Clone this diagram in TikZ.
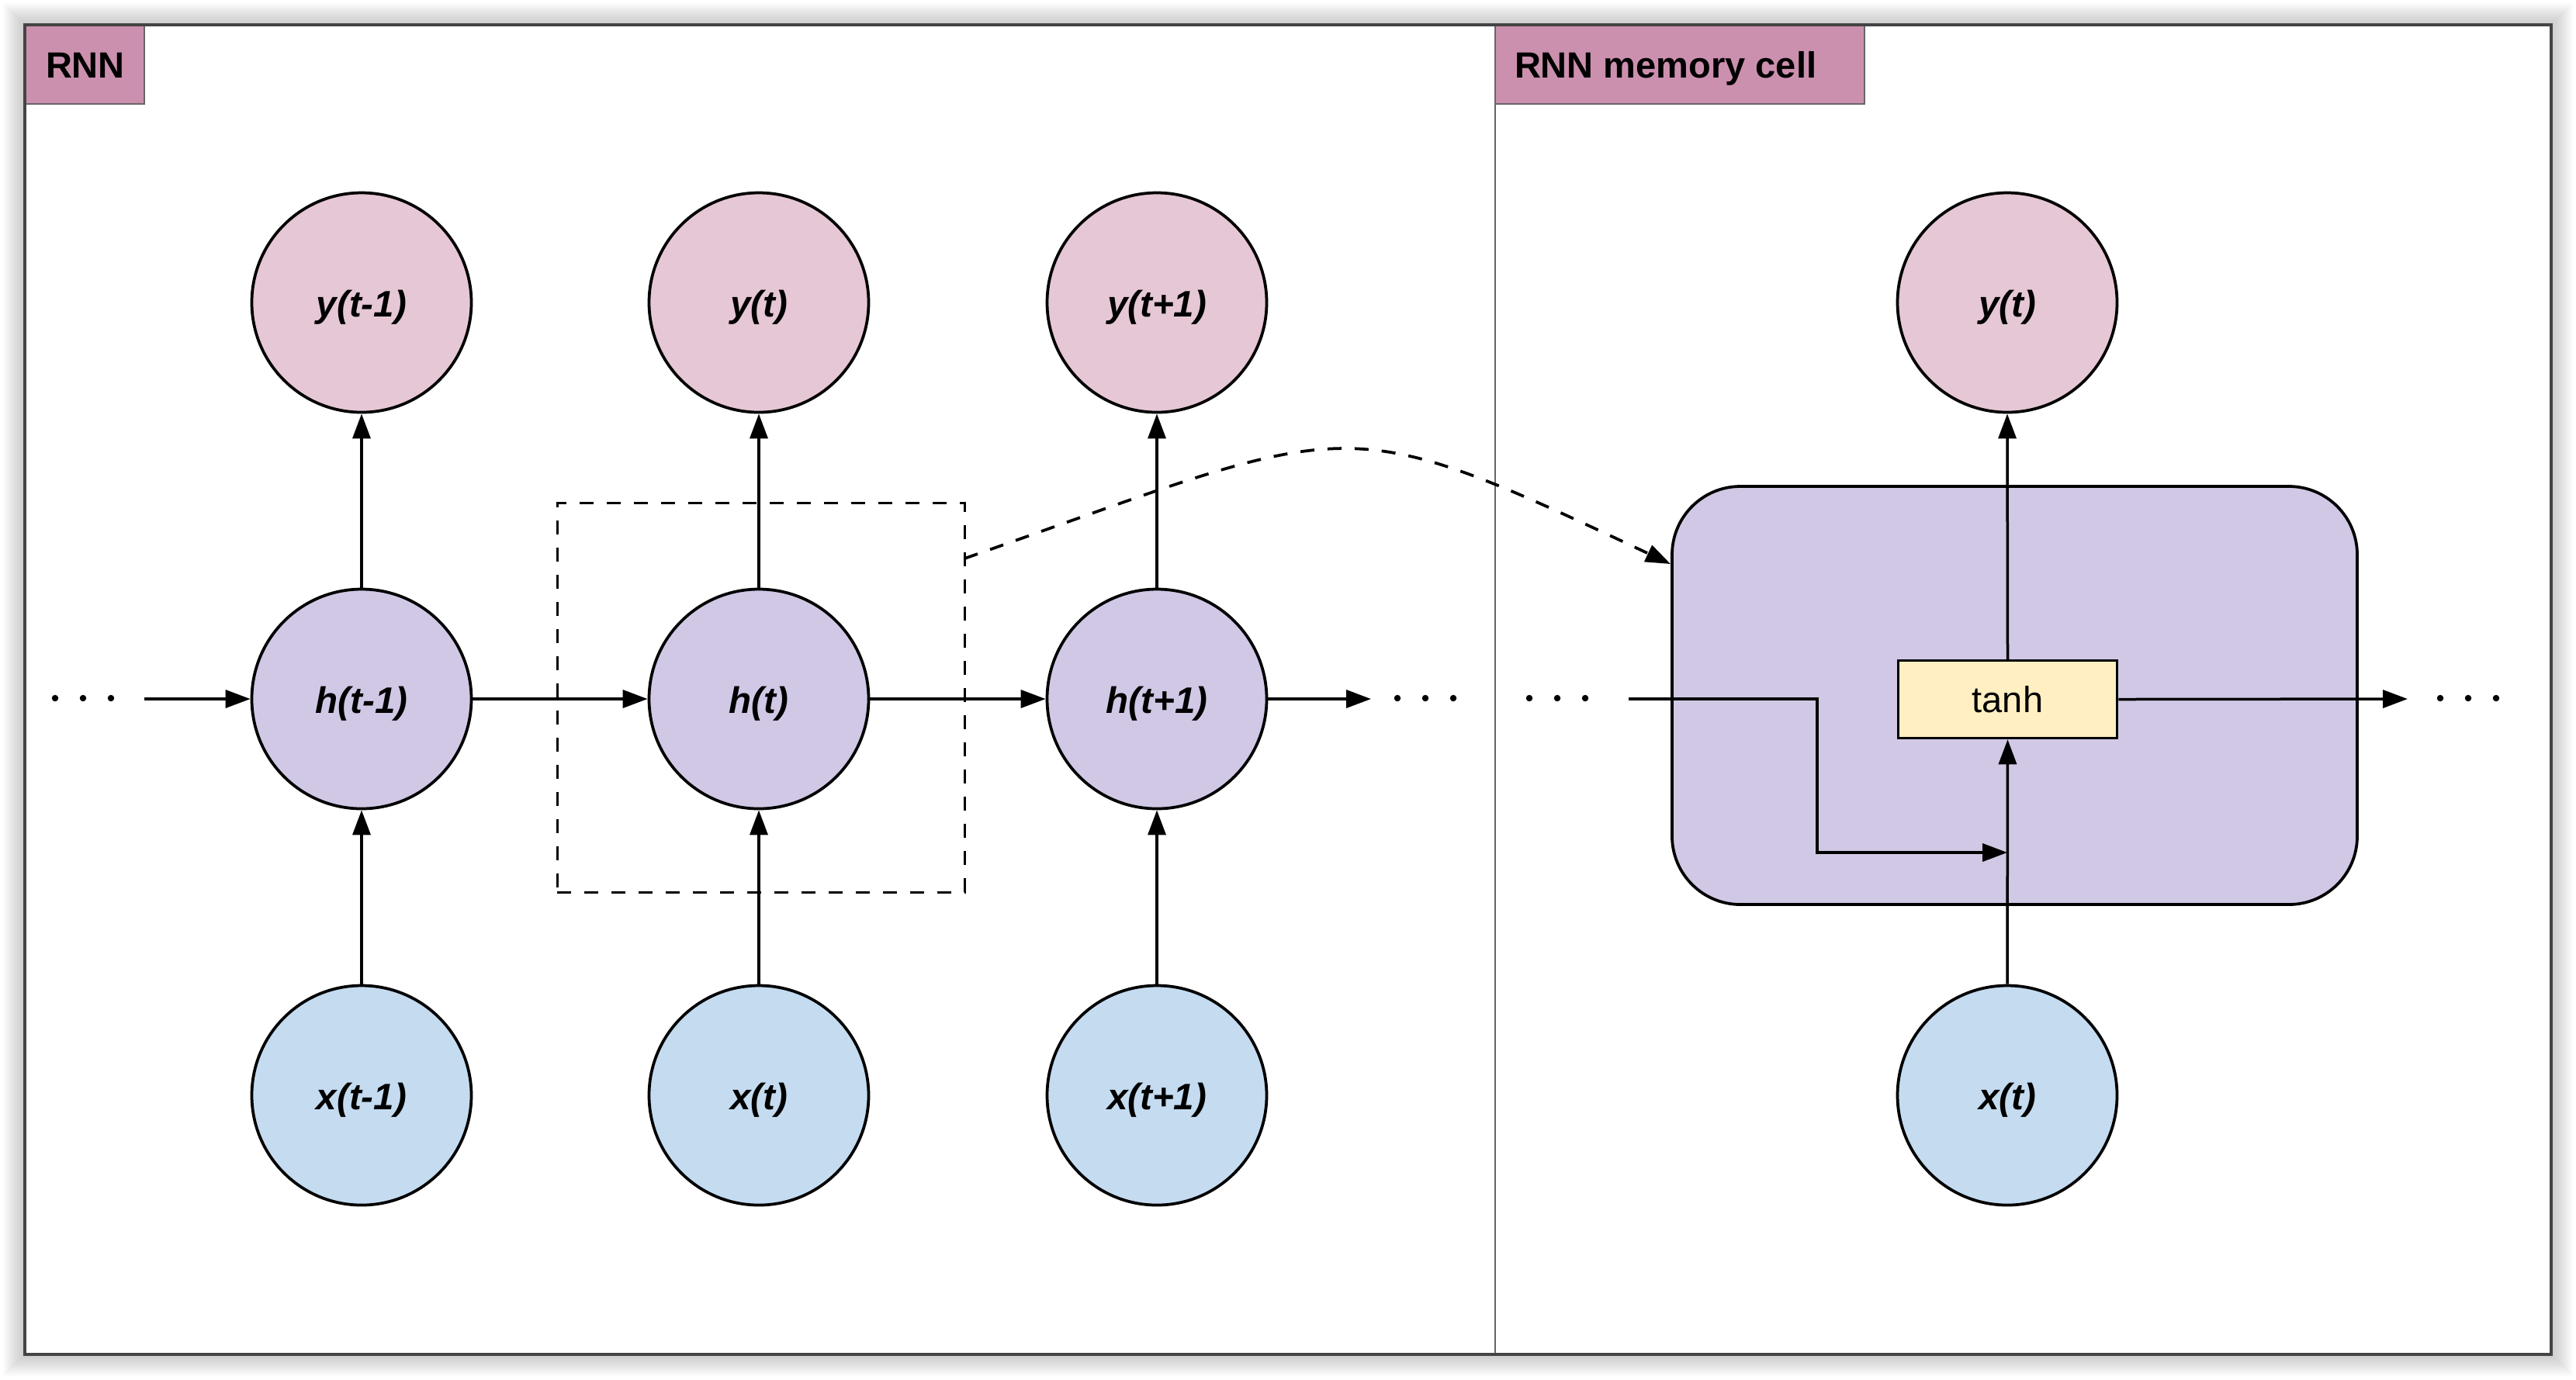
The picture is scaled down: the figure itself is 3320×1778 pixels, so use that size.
\documentclass[tikz,border=0pt]{standalone}
\usepackage{fontspec}
\setmainfont{Liberation Sans}
\usetikzlibrary{arrows.meta}
\definecolor{ypink}{HTML}{E6C7D5}
\definecolor{xblue}{HTML}{C4DBF0}
\definecolor{hlav}{HTML}{D0C8E5}
\definecolor{tanhy}{HTML}{FFEFC2}
\definecolor{labpink}{HTML}{CC90AF}
\definecolor{framegray}{HTML}{444444}
\definecolor{divgray}{HTML}{666666}
\tikzset{
  circ/.style={circle, draw=black, line width=0.75pt, minimum size=56.6pt, inner sep=0pt,
    text height=9.3pt, text depth=2pt,
    font=\fontsize{9.5}{11}\selectfont\bfseries\itshape},
  ycirc/.style={circ, fill=ypink},
  hcirc/.style={circ, fill=hlav},
  xcirc/.style={circ, fill=xblue},
  arr/.style={line width=0.7pt, -{Triangle[length=6.4pt,width=4.6pt]}},
  dsh/.style={line width=0.75pt, dash pattern=on 3.6pt off 3.4pt},
  labbox/.style={fill=labpink, draw=divgray, line width=0.45pt},
  labtext/.style={font=\fontsize{9.4}{11}\selectfont\bfseries, anchor=base west, inner sep=0pt},
  cellbox/.style={rectangle, rounded corners=17.6pt, draw=black, fill=hlav, line width=0.75pt,
    minimum width=176.6pt, minimum height=107.8pt, inner sep=0pt},
  tanhbox/.style={rectangle, draw=black, fill=tanhy, line width=0.7pt,
    minimum width=56.4pt, minimum height=20pt, inner sep=0pt,
    font=\fontsize{9.4}{11}\selectfont},
  selbox/.style={rectangle, draw=black, line width=0.6pt, dash pattern=on 3.6pt off 3.4pt,
    minimum width=105pt, minimum height=100.4pt, inner sep=0pt},
}
\begin{document}
\begin{tikzpicture}[x=0.2pt, y=-0.2pt]
\useasboundingbox (0,0) rectangle (3320,1778);
% shadow
\foreach \i in {1,...,14} {
  \fill[black, opacity=0.014] (32-2*\i, 32-2*\i) rectangle (3288+2*\i, 1746+2*\i);
}
\fill[white] (32,32) rectangle (3288,1746);
% divider
\draw[divgray, line width=0.45pt] (1927,32) -- (1927,1746);
% label boxes
\draw[labbox] (32,32) rectangle (186,134);
\draw[labbox] (1927,32) rectangle (2403,134);
\node[labtext] (labA) at (58,100) {RNN};
\node[labtext] (labB) at (1951,100) {RNN memory cell};
% frame
\draw[framegray, line width=0.7pt] (32,32) rectangle (3288,1746);

% left unrolled RNN
\node[ycirc] (y1) at (466,390) {y(t-1)};
\node[ycirc] (y2) at (978,390) {y(t)};
\node[ycirc] (y3) at (1491,390) {y(t+1)};
\node[hcirc] (h1) at (466,901) {h(t-1)};
\node[hcirc] (h2) at (978,901) {h(t)};
\node[hcirc] (h3) at (1491,901) {h(t+1)};
\node[xcirc] (x1) at (466,1412) {x(t-1)};
\node[xcirc] (x2) at (978,1412) {x(t)};
\node[xcirc] (x3) at (1491,1412) {x(t+1)};

\foreach \n in {1,2,3} {
  \draw[arr] (h\n.north) -- (y\n.south);
  \draw[arr] (x\n.north) -- (h\n.south);
}
\coordinate (lin) at (186,901);
\coordinate (lout) at (1767,901);
\draw[arr] (lin) -- (h1.west);
\draw[arr] (h1.east) -- (h2.west);
\draw[arr] (h2.east) -- (h3.west);
\draw[arr] (h3.east) -- (lout);

% dots
\foreach \px in {71,107,143,1801,1837,1873,1971,2007,2043,3145,3181,3217} {
  \fill (\px,900) circle[radius=0.85pt];
}

% selection box
\node[selbox] (sel) at (980.5,899) {};

% memory cell
\node[cellbox] (cell) at (2596.5,896.5) {};
\node[tanhbox] (tanh) at (2587.5,901.5) {tanh};
\node[ycirc] (yr) at (2587,390) {y(t)};
\node[xcirc] (xr) at (2587,1412) {x(t)};
\draw[arr] (tanh.north) -- (yr.south);
\draw[arr] (xr.north) -- (tanh.south);
\coordinate (rin) at (2099,901);
\coordinate (rk1) at (2342,901);
\coordinate (rk2) at (2342,1099);
\coordinate (rk3) at (2587,1099);
\draw[arr] (rin) -- (rk1) -- (rk2) -- (rk3);
\coordinate (rout) at (3103,901);
\draw[arr] (tanh.east) -- (rout);

% dashed curve from selection to cell
\coordinate (cs) at (1243,720);
\coordinate (ce) at (2153,727);
\draw[dsh, -{Triangle[length=6.4pt,width=4.6pt]}] (cs) .. controls (1751,542) and (1717,522) .. (ce);
\end{tikzpicture}
\end{document}
